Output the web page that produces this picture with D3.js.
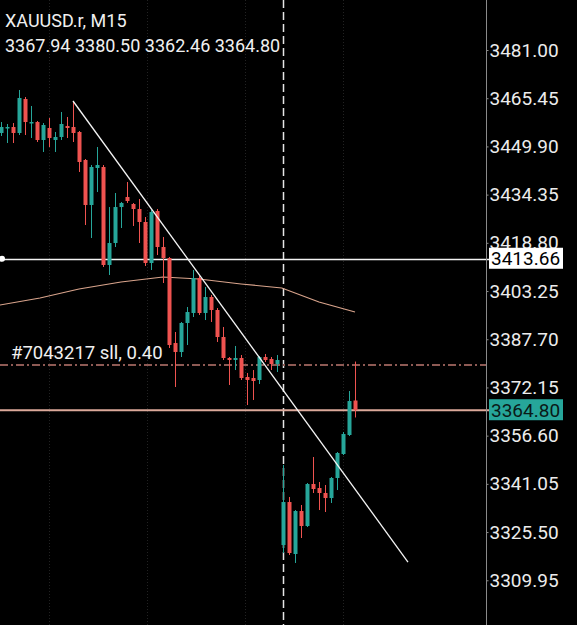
<!DOCTYPE html>
<html><head><meta charset="utf-8">
<script src="https://cdn.jsdelivr.net/npm/d3@7"></script>
<style>html,body{margin:0;padding:0;background:#000;}svg{display:block;}</style>
</head><body>
<script>
const symbolTitle = "XAUUSD.r, M15";
const ohlcText = "3367.94 3380.50 3362.46 3364.80";
const orderLabel = "#7043217 sll, 0.40";

const opens  = [3454.23,3455.84,3456.16,3454.23,3465.19,3457.45,3457.77,3451.97,3455.84,3451.97,
  3452.94,3456.48,3456.16,3454.55,3445.52,3431.00,3442.94,3443.26,3411.65,3418.74,
  3430.35,3433.58,3431.32,3429.71,3425.52,3412.29,3429.06,3417.45,3413.90,3386.48,
  3383.58,3392.94,3396.16,3407.45,3396.16,3401.32,3397.13,3388.42,3381.65,3381.00,
  3381.65,3375.52,3375.19,3374.55,3381.97,3381.32,3379.71,3321.32,3335.19,3318.42,
  3332.29,3327.45,3341.00,3339.71,3338.10,3336.48,3342.94,3350.68,3356.81,3367.94];
const highs  = [3457.77,3457.13,3457.45,3468.10,3465.84,3462.94,3458.10,3457.45,3459.06,3454.55,
  3461.00,3459.39,3464.55,3454.87,3445.84,3443.90,3449.71,3443.90,3430.35,3434.87,
  3431.97,3438.42,3431.65,3432.94,3427.13,3429.39,3429.71,3420.68,3414.23,3390.03,
  3393.26,3398.10,3410.03,3408.10,3404.55,3401.97,3397.77,3391.65,3381.97,3385.52,
  3382.61,3376.81,3377.77,3382.29,3382.94,3381.97,3382.61,3347.13,3336.81,3332.61,
  3334.23,3341.32,3349.71,3341.65,3340.68,3343.26,3351.32,3357.77,3371.00,3380.50];
const lows   = [3453.26,3451.00,3451.00,3453.58,3453.58,3452.61,3451.32,3448.10,3449.71,3448.10,
  3451.97,3452.61,3451.32,3441.65,3424.55,3420.35,3435.19,3411.00,3408.42,3417.45,
  3423.58,3431.65,3424.23,3418.74,3411.32,3410.03,3414.87,3405.84,3384.87,3372.29,
  3381.97,3385.84,3394.87,3395.52,3393.90,3393.26,3386.81,3381.00,3372.94,3377.77,
  3374.55,3366.48,3368.10,3373.26,3380.35,3377.77,3377.13,3318.74,3318.10,3315.52,
  3323.58,3327.13,3338.10,3332.61,3331.97,3334.87,3339.06,3350.35,3356.48,3362.46];
const closes = [3456.16,3456.16,3454.23,3465.52,3457.77,3457.77,3451.97,3456.81,3452.61,3452.94,
  3457.13,3455.84,3454.23,3444.87,3431.00,3443.26,3443.90,3411.65,3418.74,3430.35,
  3431.65,3432.29,3429.71,3425.52,3412.29,3428.74,3417.45,3413.90,3385.84,3383.58,
  3392.94,3396.48,3407.45,3396.16,3401.32,3397.13,3388.42,3381.65,3381.00,3381.65,
  3375.19,3374.55,3374.23,3381.97,3381.00,3379.71,3381.00,3335.19,3318.74,3332.29,
  3327.45,3341.00,3339.39,3338.10,3336.48,3342.94,3351.00,3357.13,3367.77,3364.80];

const maIndex = [-0.17, 6.5, 13, 20, 27, 33, 40, 46.8, 53, 59];
const maValue = [3398.74, 3401.00, 3403.90, 3406.16, 3407.77, 3407.13, 3405.52, 3404.23, 3399.71, 3396.48];

const trendIndex = [12, 67.83];
const trendPrice = [3464.55, 3315.84];

const tickValues = [3481.00,3465.45,3449.90,3434.35,3418.80,3403.25,3387.70,3372.15,3356.60,3341.05,3325.50,3309.95];
const whiteLevel = 3413.66;
const orderLevel = 3379.40;
const bidLevel = 3364.80;
const separatorIndex = 46.98;
const gridIndex = [8, 24.33, 40.67, 57];

const W = 577, H = 625, axisX = 486;
const UP = "#26a69a", DOWN = "#ef5350";
const FONT = "Roboto, 'Noto Sans', sans-serif";

const svg = d3.select("body").append("svg").attr("width", W).attr("height", H)
  .style("background", "#000");

const y = d3.scaleLinear().domain([3497.13, 3295.52]).range([0, H]);
const x = d3.scaleLinear().domain([0, 59]).range([1, 355]);

// grid
svg.append("g").selectAll("line").data(gridIndex).join("line")
  .attr("x1", d => Math.round(x(d)) + 0.5).attr("x2", d => Math.round(x(d)) + 0.5)
  .attr("y1", 0).attr("y2", H)
  .attr("stroke", "#222").attr("stroke-dasharray", "1,2");

// separator
svg.append("line")
  .attr("x1", Math.round(x(separatorIndex)) + 0.5).attr("x2", Math.round(x(separatorIndex)) + 0.5)
  .attr("y1", 0).attr("y2", H)
  .attr("stroke", "#e6e6e6").attr("stroke-width", 1.5).attr("stroke-dasharray", "8,4");

// MA line
const maData = maIndex.map((d, i) => [d, maValue[i]]);
svg.append("path").datum(maData)
  .attr("d", d3.line().x(d => x(d[0])).y(d => y(d[1])))
  .attr("fill", "none").attr("stroke", "#d9a48c").attr("stroke-width", 1.2);

// horizontal lines
svg.append("line").attr("x1", 0).attr("x2", axisX + 4)
  .attr("y1", Math.round(y(whiteLevel)) + 0.5).attr("y2", Math.round(y(whiteLevel)) + 0.5)
  .attr("stroke", "#f2f2f2").attr("stroke-width", 1.5);
svg.append("circle").attr("cx", 2).attr("cy", y(whiteLevel)).attr("r", 3).attr("fill", "#fff");

svg.append("line").attr("x1", 0).attr("x2", axisX)
  .attr("y1", y(orderLevel)).attr("y2", y(orderLevel))
  .attr("stroke", "#8e5a54").attr("stroke-width", 2).attr("stroke-dasharray", "8,3,2,3");

svg.append("line").attr("x1", 0).attr("x2", axisX + 4)
  .attr("y1", y(bidLevel)).attr("y2", y(bidLevel))
  .attr("stroke", "#dca99a").attr("stroke-width", 2);

// candles
const idx = d3.range(opens.length);
const cg = svg.append("g");
cg.selectAll("line").data(idx).join("line")
  .attr("x1", i => Math.round(x(i)) + 0.5).attr("x2", i => Math.round(x(i)) + 0.5)
  .attr("y1", i => y(highs[i])).attr("y2", i => y(lows[i]))
  .attr("stroke", i => closes[i] >= opens[i] ? UP : DOWN).attr("stroke-width", 1);
cg.selectAll("rect").data(idx).join("rect")
  .attr("x", i => Math.round(x(i)) - 1.5).attr("width", 4)
  .attr("y", i => y(Math.max(opens[i], closes[i])))
  .attr("height", i => Math.max(1.5, Math.abs(y(opens[i]) - y(closes[i]))))
  .attr("fill", i => closes[i] >= opens[i] ? UP : DOWN);

// trendline
svg.append("line")
  .attr("x1", x(trendIndex[0])).attr("y1", y(trendPrice[0]))
  .attr("x2", x(trendIndex[1])).attr("y2", y(trendPrice[1]))
  .attr("stroke", "#f5f5f5").attr("stroke-width", 1.3);

// axis
const axis = d3.axisRight(y).tickValues(tickValues).tickSize(2).tickPadding(1)
  .tickFormat(d3.format(".2f"));
const ag = svg.append("g").attr("transform", `translate(${axisX + 0.5},0)`).call(axis);
ag.select(".domain").attr("stroke", "#8a8a8a").attr("d", `M0,0V${H}`);
ag.selectAll(".tick line").attr("stroke", "#8a8a8a");
ag.selectAll(".tick text").attr("fill", "#ececec").attr("font-size", 19)
  .attr("font-family", FONT);

// price boxes
function priceBox(val, bg, fg) {
  const cy = y(val);
  svg.append("rect").attr("x", 489).attr("y", cy - 11).attr("width", 74).attr("height", 21).attr("fill", bg);
  svg.append("text").attr("x", 491).attr("y", cy).attr("dy", "0.35em")
    .attr("font-size", 19).attr("font-family", FONT).attr("fill", fg).text(d3.format(".2f")(val));
}
priceBox(whiteLevel, "#ffffff", "#000");
priceBox(bidLevel, "#26a69a", "#0a1a18");

// texts
svg.append("text").attr("x", 5).attr("y", 27).attr("font-size", 18).attr("font-family", FONT)
  .attr("fill", "#f0f0f0").text(symbolTitle);
svg.append("text").attr("x", 5).attr("y", 52).attr("font-size", 18).attr("font-family", FONT)
  .attr("fill", "#f0f0f0").text(ohlcText);
svg.append("text").attr("x", 11).attr("y", 359).attr("font-size", 18.5).attr("font-family", FONT)
  .attr("fill", "#f0f0f0").text(orderLabel);
</script>
</body></html>
